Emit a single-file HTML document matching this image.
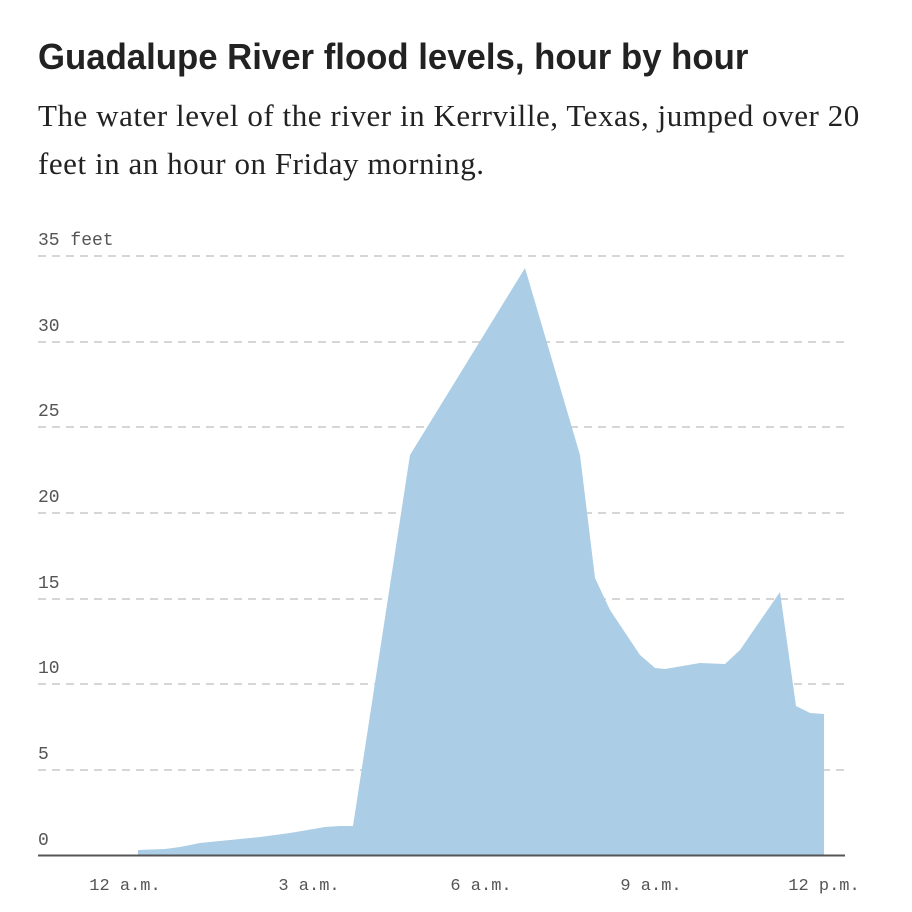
<!DOCTYPE html>
<html><head><style>
html,body{margin:0;padding:0;background:#fff;width:912px;height:912px;overflow:hidden}
.t{position:absolute;left:38px;top:36px;font:bold 36px "Liberation Sans",sans-serif;color:#222;letter-spacing:0;transform:scaleX(0.965);transform-origin:left top;white-space:nowrap}
.s{position:absolute;left:38px;top:92px;width:900px;font:31px/48px "Liberation Serif",serif;color:#222;letter-spacing:0.55px;white-space:nowrap}
</style></head><body>
<div class="t">Guadalupe River flood levels, hour by hour</div>
<div class="s">The water level of the river in Kerrville, Texas, jumped over 20<br>feet in an hour on Friday morning.</div>
<svg width="912" height="912" style="position:absolute;left:0;top:0">
<g stroke="#c8c8c8" stroke-width="1.5" stroke-dasharray="8,6">
<line x1="38" x2="845" y1="256" y2="256"/><line x1="38" x2="845" y1="342" y2="342"/>
<line x1="38" x2="845" y1="427" y2="427"/><line x1="38" x2="845" y1="513" y2="513"/>
<line x1="38" x2="845" y1="599" y2="599"/><line x1="38" x2="845" y1="684" y2="684"/>
<line x1="38" x2="845" y1="770" y2="770"/>
</g>
<polygon fill="#abcde5" points="138,856 138,850 165,849 180,847 200,843 230,840 260,837 290,833 325,827 340,826 353,826 410,455 525,268 580,455 595,578 610,610 640,655 655,668 665,669 700,663 725,664 740,650 780,592 796,706 810,713 824,714 824,856"/>
<line x1="38" x2="845" y1="855.5" y2="855.5" stroke="#555" stroke-width="2"/>
<g font-family="Liberation Mono,monospace" font-size="18" fill="#555">
<text x="38" y="245">35 feet</text><text x="38" y="331">30</text><text x="38" y="416">25</text>
<text x="38" y="502">20</text><text x="38" y="588">15</text><text x="38" y="673">10</text>
<text x="38" y="759">5</text><text x="38" y="845">0</text>
<g text-anchor="middle" font-size="17"><text x="125" y="890">12 a.m.</text><text x="309" y="890">3 a.m.</text>
<text x="481" y="890">6 a.m.</text><text x="651" y="890">9 a.m.</text><text x="824" y="890">12 p.m.</text></g>
</g>
</svg>
</body></html>
